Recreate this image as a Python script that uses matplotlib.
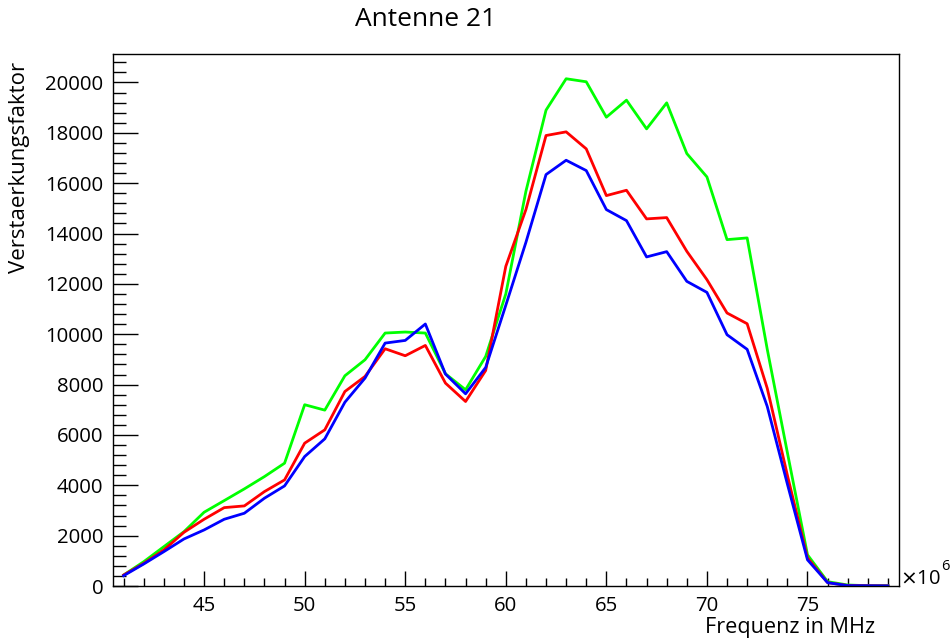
import matplotlib
matplotlib.use("Agg")
import matplotlib.pyplot as plt
from matplotlib.ticker import MultipleLocator, FuncFormatter

plt.rcParams['font.family'] = ['Open Sans', 'DejaVu Sans']

freq_mhz = list(range(41, 80))

green = [437, 966, 1563, 2159, 2930, 3392, 3857, 4346, 4878, 7200,
         6985, 8350, 8986, 10047, 10087, 10047, 8429, 7793, 9117, 11600,
         15677, 18900, 20147, 20027, 18620, 19296, 18157, 19190, 17176, 16248,
         13757, 13825, 9400, 5300, 1240, 172, 40, 12, 12]
red = [437, 901, 1431, 2134, 2651, 3113, 3181, 3750, 4214, 5673,
       6203, 7725, 8323, 9423, 9145, 9555, 8058, 7328, 8560, 12696,
       14950, 17892, 18038, 17363, 15506, 15718, 14581, 14632, 13293, 12167,
       10843, 10417, 7850, 4400, 1120, 133, 20, 10, 5]
blue = [410, 875, 1365, 1869, 2227, 2651, 2890, 3487, 3976, 5142,
        5845, 7300, 8257, 9648, 9754, 10406, 8418, 7634, 8680, 11150,
        13650, 16341, 16910, 16500, 14950, 14512, 13070, 13280, 12100, 11662,
        9980, 9400, 7130, 4050, 1040, 133, 15, 10, 5]

title = "Antenne 21"
xlabel = "Frequenz in MHz"
ylabel = "Verstaerkungsfaktor"

freq_hz = [f * 1e6 for f in freq_mhz]

fig = plt.figure(figsize=(9.5, 6.4), dpi=100)
ax = fig.add_axes([113/950, 1 - 586/640, (899 - 113)/950, (586 - 54)/640])

ax.plot(freq_hz, green, color='#00ff00', lw=2.0)
ax.plot(freq_hz, red, color='#ff0000', lw=2.0)
ax.plot(freq_hz, blue, color='#0000ff', lw=2.0)

ax.set_xlim(40.47e6, 79.55e6)
ax.set_ylim(0, 21130)

ax.xaxis.set_major_locator(MultipleLocator(5e6))
ax.xaxis.set_minor_locator(MultipleLocator(1e6))
ax.yaxis.set_major_locator(MultipleLocator(2000))
ax.yaxis.set_minor_locator(MultipleLocator(400))
ax.xaxis.set_major_formatter(FuncFormatter(lambda v, p: f"{v/1e6:g}"))
ax.yaxis.set_major_formatter(FuncFormatter(lambda v, p: f"{v:g}"))

ax.tick_params(axis='x', which='major', direction='in', length=11, width=1.0,
               labelsize=14.7, pad=7, top=False)
ax.tick_params(axis='x', which='minor', direction='in', length=5.5, width=1.0, top=False)
ax.tick_params(axis='y', which='major', direction='in', length=18, width=1.0,
               labelsize=14.7, pad=7, right=False)
ax.tick_params(axis='y', which='minor', direction='in', length=9, width=1.0, right=False)

for s in ax.spines.values():
    s.set_linewidth(1.0)

fig.text(426/950, 1 - 20/640, title, ha='center', va='center', fontsize=19)
fig.text(875/950, 1 - 628/640, xlabel, ha='right', va='center', fontsize=15.6)
fig.text(20/950, 1 - 62/640, ylabel, ha='center', va='top', rotation=90, fontsize=16)
fig.text(900/950, 1 - 579/640, r"$\times$10", ha='left', va='center', fontsize=14.5)
fig.text(941/950, 1 - 567/640, "6", ha='left', va='center', fontsize=10.5)

fig.savefig("out.png", dpi=100)
